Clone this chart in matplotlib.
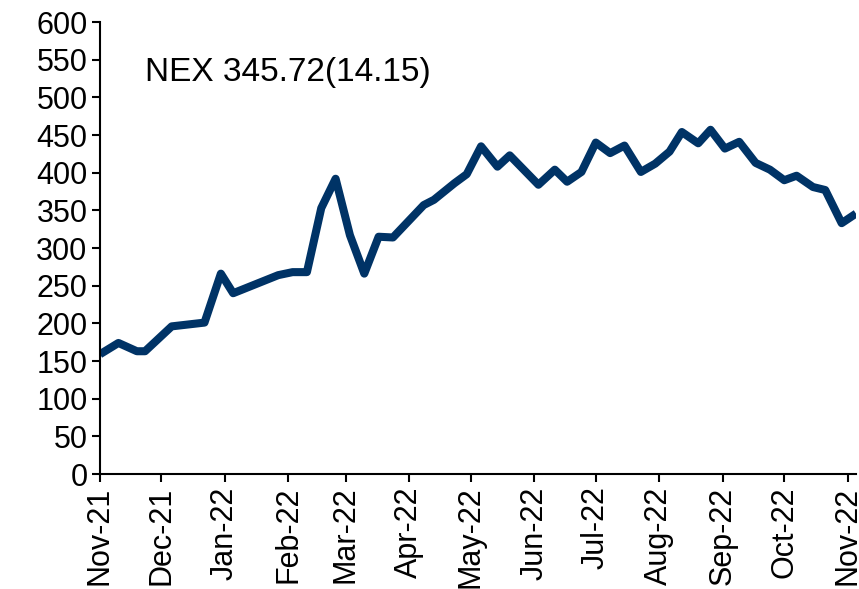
import matplotlib
matplotlib.use("Agg")
import matplotlib.pyplot as plt
import matplotlib.dates as mdates
import pandas as pd

# weekly-ish NEX closes
dates = [
    "2021-11-05", "2021-11-14", "2021-11-23", "2021-11-27", "2021-12-10",
    "2021-12-26", "2022-01-03", "2022-01-09", "2022-01-31", "2022-02-07",
    "2022-02-14", "2022-02-21", "2022-02-28", "2022-03-07", "2022-03-14",
    "2022-03-21", "2022-03-28", "2022-04-12", "2022-04-17", "2022-04-27",
    "2022-05-03", "2022-05-10", "2022-05-18", "2022-05-24", "2022-06-07",
    "2022-06-15", "2022-06-21", "2022-06-28", "2022-07-05", "2022-07-12",
    "2022-07-19", "2022-07-27", "2022-08-03", "2022-08-10", "2022-08-16",
    "2022-08-24", "2022-08-30", "2022-09-06", "2022-09-13", "2022-09-21",
    "2022-09-28", "2022-10-05", "2022-10-11", "2022-10-19", "2022-10-25",
    "2022-11-02", "2022-11-09",
]
nex = [
    159, 174, 163, 163, 196,
    201, 266, 240, 264, 268,
    268, 353, 392, 317, 266,
    315, 314, 357, 364, 386,
    398, 435, 408, 423, 384,
    404, 388, 401, 440, 426,
    436, 401, 412, 428, 454,
    439, 457, 432, 441, 413,
    404, 390, 396, 381, 377,
    333, 345.72,
]
label = "NEX 345.72(14.15)"

plt.rcParams["font.family"] = ["Liberation Sans", "DejaVu Sans"]

x = pd.to_datetime(dates)
fig = plt.figure(figsize=(8.59, 5.89), dpi=100)
ax = fig.add_axes([0.1164, 0.1952, 0.8801, 0.7674])

ax.plot(x, nex, color="#003366", lw=5.8, solid_joinstyle="round",
        solid_capstyle="butt")

ax.set_ylim(0, 600)
ax.set_yticks(range(0, 601, 50))
ax.set_xlim(x[0], x[-1])
ax.xaxis.set_major_locator(mdates.MonthLocator(bymonthday=5))
ax.xaxis.set_major_formatter(mdates.DateFormatter("%b-%y"))
for lbl in ax.get_xticklabels():
    lbl.set_rotation(90)

for s in ["top", "right"]:
    ax.spines[s].set_visible(False)
for s in ["left", "bottom"]:
    ax.spines[s].set_linewidth(1.5)
ax.tick_params(axis="both", labelsize=22, width=1.5, length=6, direction="out", pad=3)

ax.text(0.0595, 0.889, label, transform=ax.transAxes, fontsize=24,
        va="center", ha="left")

fig.savefig("out.png", dpi=100)
